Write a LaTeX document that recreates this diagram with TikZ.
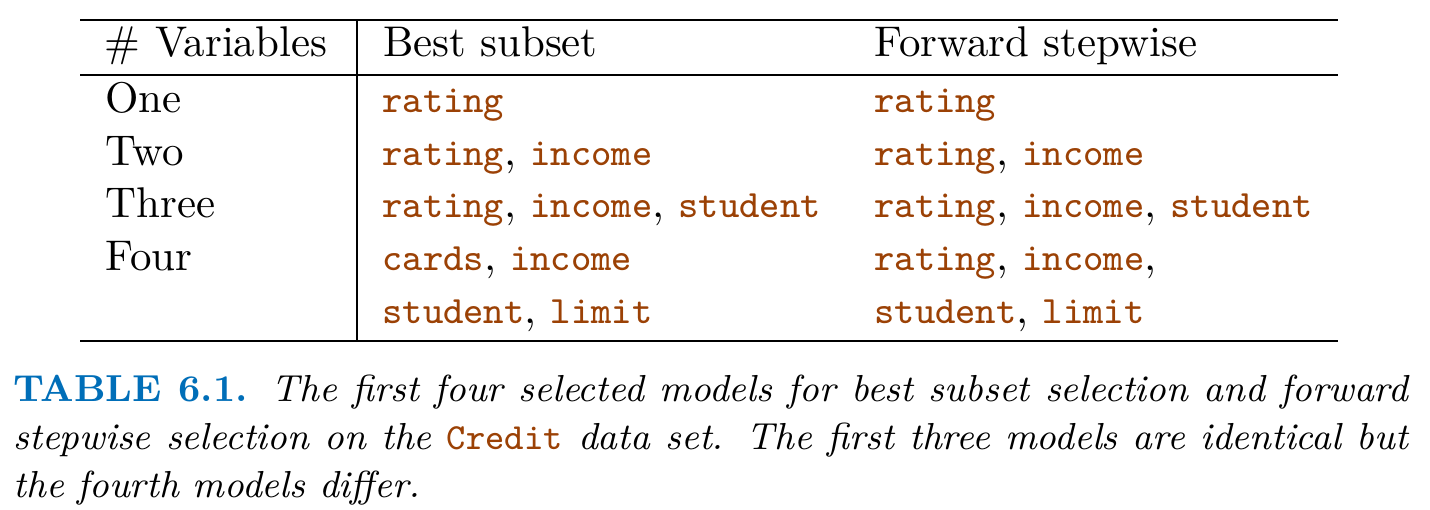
\documentclass[tikz,border=0pt]{standalone}
\usepackage{xcolor}
\definecolor{codebrown}{RGB}{155,65,5}
\definecolor{capblue}{RGB}{0,110,184}
\newcommand{\cde}[1]{{\color{codebrown}\fontsize{9.25}{11}\selectfont\ttfamily #1}}
\tikzset{
  tablerule/.style={line width=0.6pt, line cap=butt},
  cell/.style={anchor=base west, inner sep=0pt, outer sep=0pt, font=\fontsize{10.27}{12}\selectfont},
  captionline/.style={anchor=base west, inner sep=0pt, outer sep=0pt, font=\fontsize{9}{11}\selectfont\itshape}
}
\begin{document}
\begin{tikzpicture}[x=0.23923pt, y=-0.23923pt]
\useasboundingbox (0,0) rectangle (1430,510);
% table frame coordinates
\coordinate (TL) at (80,20);
\coordinate (TR) at (1338,20);
\coordinate (ML) at (80,75);
\coordinate (MR) at (1338,75);
\coordinate (BL) at (80,341);
\coordinate (BR) at (1338,341);
\coordinate (VT) at (357,20);
\coordinate (VB) at (357,341);
\draw[tablerule] (TL) -- (TR);
\draw[tablerule] (ML) -- (MR);
\draw[tablerule] (BL) -- (BR);
\draw[tablerule] (VT) -- (VB);
% header
\node[cell] (h1) at (105,57) {\# Variables};
\node[cell] (h2) at (383,57) {Best subset};
\node[cell] (h3) at (874.5,57) {Forward stepwise};
% column 1
\node[cell] (r1) at (105.5,112.3) {One};
\node[cell] (r2) at (105.5,165) {Two};
\node[cell] (r3) at (105.5,217.7) {Three};
\node[cell] (r4) at (105.5,270.3) {Four};
% column 2
\node[cell] (b1) at (382.5,112.3) {\cde{rating}};
\node[cell] (b2) at (382.5,165) {\cde{rating}, \cde{income}};
\node[cell] (b3) at (382.5,217.7) {\cde{rating}, \cde{income}, \cde{student}};
\node[cell] (b4) at (382.5,270.3) {\cde{cards}, \cde{income}};
\node[cell] (b5) at (382.5,323) {\cde{student}, \cde{limit}};
% column 3
\node[cell] (f1) at (874.5,112.3) {\cde{rating}};
\node[cell] (f2) at (874.5,165) {\cde{rating}, \cde{income}};
\node[cell] (f3) at (874.5,217.7) {\cde{rating}, \cde{income}, \cde{student}};
\node[cell] (f4) at (874.5,270.3) {\cde{rating}, \cde{income},};
\node[cell] (f5) at (874.5,323) {\cde{student}, \cde{limit}};
% caption
\node[captionline] (c1) at (13.5,401) {\makebox[333.6pt][s]{{\upshape\bfseries\color{capblue}TABLE 6.1.} The first four selected models for best subset selection and forward}};
\node[captionline] (c2) at (13.5,449) {\makebox[333.6pt][s]{stepwise selection on the {\upshape\color{codebrown}\fontsize{8.8}{11}\selectfont\ttfamily Credit} data set. The first three models are identical but}};
\node[captionline] (c3) at (13.5,497) {the fourth models differ.};
\end{tikzpicture}
\end{document}
